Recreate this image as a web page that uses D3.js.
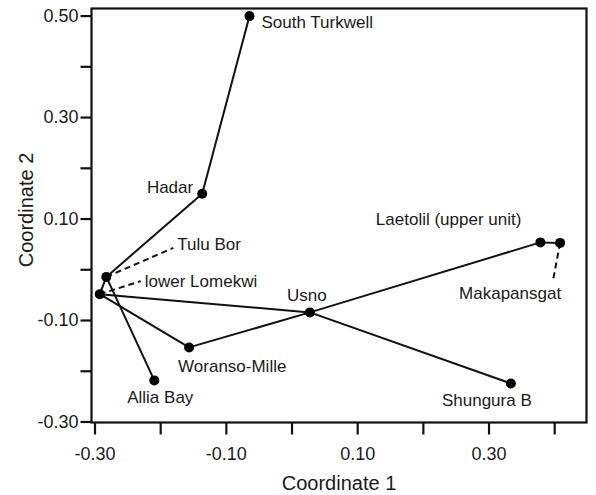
<!DOCTYPE html>
<html>
<head>
<meta charset="utf-8">
<script src="https://cdn.jsdelivr.net/npm/d3@7"></script>
<style>
  body { margin: 0; background: #fff; }
  text { font-family: "Liberation Sans", Arial, sans-serif; fill: #1a1a1a; }
</style>
</head>
<body>
<script>
'use strict';

var width  = 596;
var height = 495;

// sites and their coordinates
var sites  = ['South Turkwell', 'Hadar', 'Tulu Bor', 'lower Lomekwi', 'Woranso-Mille',
              'Allia Bay', 'Usno', 'Laetolil (upper unit)', 'Makapansgat', 'Shungura B'];
var coord1 = [-0.064, -0.136, -0.282, -0.292, -0.156, -0.209, 0.028, 0.379, 0.409, 0.334];
var coord2 = [ 0.499,  0.149, -0.015, -0.049, -0.154, -0.219, -0.085, 0.053, 0.052, -0.225];

// tree edges (site index pairs)
var edges = [[0, 1], [1, 2], [2, 3], [2, 5], [3, 6], [3, 4], [4, 6], [6, 7], [7, 8], [6, 9]];

var xTickValues = [-0.3, -0.2, -0.1, 0.0, 0.1, 0.2, 0.3, 0.4];
var xTickLabels = ['-0.30', '', '-0.10', '', '0.10', '', '0.30', ''];
var yTickValues = [-0.3, -0.2, -0.1, 0.0, 0.1, 0.2, 0.3, 0.4, 0.5];
var yTickLabels = ['-0.30', '', '-0.10', '', '0.10', '', '0.30', '', '0.50'];

// label placement relative to each point (pixels): dx, dy, anchor, leader end (or none)
var labelStyle = [
  { dx: 12,  dy: 12,  anchor: 'start' },
  { dx: -9,  dy: -1,  anchor: 'end' },
  { dx: 71,  dy: -27, anchor: 'start',  lead: [67, -29] },
  { dx: 45,  dy: -7,  anchor: 'start',  lead: [41, -13] },
  { dx: -11, dy: 25,  anchor: 'start' },
  { dx: 6,   dy: 23,  anchor: 'middle' },
  { dx: -3,  dy: -11, anchor: 'middle' },
  { dx: -19, dy: -17, anchor: 'end' },
  { dx: -50, dy: 56,  anchor: 'middle', lead: [-7, 37] },
  { dx: -24, dy: 23,  anchor: 'middle' }
];

var margin = { left: 91.5, top: 8.5 };
var plotW = 495, plotH = 414;

var x = d3.scaleLinear().domain([-0.3046, 0.4492]).range([margin.left, margin.left + plotW]);
var y = d3.scaleLinear().domain([-0.302, 0.514]).range([margin.top + plotH, margin.top]);

var svg = d3.select('body').append('svg')
    .attr('width', width)
    .attr('height', height);

// axes
var xAxis = d3.axisBottom(x)
    .tickValues(xTickValues)
    .tickFormat(function(d, i) { return xTickLabels[i]; })
    .tickSize(12)
    .tickPadding(13);
var yAxis = d3.axisLeft(y)
    .tickValues(yTickValues)
    .tickFormat(function(d, i) { return yTickLabels[i]; })
    .tickSize(11)
    .tickPadding(2);

var gx = svg.append('g')
    .attr('transform', 'translate(0,' + (margin.top + plotH) + ')')
    .call(xAxis);
var gy = svg.append('g')
    .attr('transform', 'translate(' + margin.left + ',0)')
    .call(yAxis);

[gx, gy].forEach(function(g) {
  g.select('.domain').remove();
  g.selectAll('.tick line').attr('stroke', '#111').attr('stroke-width', 2.2);
  g.selectAll('.tick text')
    .attr('font-size', 18)
    .attr('font-family', '"Liberation Sans", Arial, sans-serif')
    .attr('fill', '#1a1a1a');
});

// frame
svg.append('rect')
  .attr('x', margin.left)
  .attr('y', margin.top)
  .attr('width', plotW)
  .attr('height', plotH)
  .attr('fill', 'none')
  .attr('stroke', '#111')
  .attr('stroke-width', 2.2);

// axis titles
svg.append('text')
  .attr('x', margin.left + plotW / 2)
  .attr('y', 490)
  .attr('text-anchor', 'middle')
  .attr('font-size', 20)
  .text('Coordinate 1');

svg.append('text')
  .attr('transform', 'translate(33,' + 210 + ') rotate(-90)')
  .attr('text-anchor', 'middle')
  .attr('font-size', 20)
  .text('Coordinate 2');

// edges
svg.append('g').selectAll('line')
  .data(edges)
  .enter().append('line')
    .attr('x1', function(e) { return x(coord1[e[0]]); })
    .attr('y1', function(e) { return y(coord2[e[0]]); })
    .attr('x2', function(e) { return x(coord1[e[1]]); })
    .attr('y2', function(e) { return y(coord2[e[1]]); })
    .attr('stroke', '#111')
    .attr('stroke-width', 2);

// dashed leaders to labels
svg.append('g').selectAll('line')
  .data(d3.range(sites.length).filter(function(i) { return labelStyle[i].lead; }))
  .enter().append('line')
    .attr('x1', function(i) { return x(coord1[i]); })
    .attr('y1', function(i) { return y(coord2[i]); })
    .attr('x2', function(i) { return x(coord1[i]) + labelStyle[i].lead[0]; })
    .attr('y2', function(i) { return y(coord2[i]) + labelStyle[i].lead[1]; })
    .attr('stroke', '#111')
    .attr('stroke-width', 2)
    .attr('stroke-dasharray', '6,4');

// points
svg.append('g').selectAll('circle')
  .data(sites)
  .enter().append('circle')
    .attr('cx', function(d, i) { return x(coord1[i]); })
    .attr('cy', function(d, i) { return y(coord2[i]); })
    .attr('r', 5)
    .attr('fill', '#000');

// labels
svg.append('g').selectAll('text')
  .data(sites)
  .enter().append('text')
    .attr('x', function(d, i) { return x(coord1[i]) + labelStyle[i].dx; })
    .attr('y', function(d, i) { return y(coord2[i]) + labelStyle[i].dy; })
    .attr('text-anchor', function(d, i) { return labelStyle[i].anchor; })
    .attr('font-size', 17)
    .text(function(d) { return d; });
</script>
</body>
</html>
